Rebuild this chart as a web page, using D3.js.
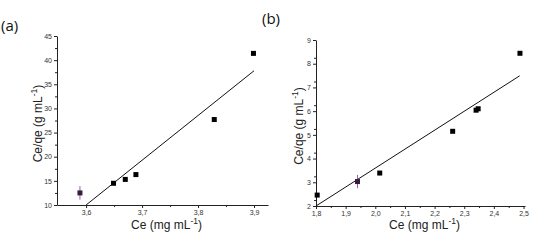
<!DOCTYPE html>
<meta charset="utf-8">
<style>
body { margin: 0; background: #fff; }
svg { font-family: "Liberation Sans", Arial, sans-serif; }
.tick text { font-size: 7px; fill: #333; }
.domain, .tick line { stroke: #222; }
</style>
<svg width="535" height="250"></svg>
<script src="https://cdn.jsdelivr.net/npm/d3@7"></script>
<script>
// panel (a)
var ceA = [3.589, 3.649, 3.670, 3.689, 3.829, 3.899];
var ratioA = [12.5, 14.5, 15.3, 16.3, 27.7, 41.4];
var errA = [1.4, 0, 0, 0, 0, 0];
var fitA = [[3.6, 10.0], [3.9, 37.8]];
var xTicksA = [3.6, 3.7, 3.8, 3.9];
var yTicksA = [10, 15, 20, 25, 30, 35, 40, 45];

// panel (b)
var ceB = [1.804, 1.940, 2.015, 2.261, 2.340, 2.347, 2.488];
var ratioB = [2.46, 3.03, 3.39, 5.15, 6.04, 6.10, 8.44];
var errB = [0, 0.28, 0, 0, 0, 0, 0];
var fitB = [[1.8, 2.0], [2.487, 7.49]];
var xTicksB = [1.8, 1.9, 2.0, 2.1, 2.2, 2.3, 2.4, 2.5];
var yTicksB = [2, 3, 4, 5, 6, 7, 8, 9];

var svg = d3.select("svg");
var comma = function(d) { return d3.format(".1f")(d).replace(".", ","); };

function panel(o) {
  var x = d3.scaleLinear().domain(o.xdom).range([o.left, o.right]);
  var y = d3.scaleLinear().domain(o.ydom).range([o.bottom, o.top]);
  var g = svg.append("g");

  // minor ticks halfway between the major ones
  var xMinor = [], yMinor = [];
  for (var i = 0; i < o.xt.length; i++) {
    var v = o.xt[i] + o.xstep / 2;
    if (v <= o.xdom[1]) xMinor.push(v);
  }
  for (var j = 0; j < o.yt.length - 1; j++) yMinor.push(o.yt[j] + o.ystep / 2);

  g.append("g").attr("transform", "translate(0," + o.bottom + ")")
    .call(d3.axisBottom(x).tickValues(xMinor).tickSize(2).tickFormat(""))
    .select(".domain").remove();
  g.append("g").attr("transform", "translate(" + o.left + ",0)")
    .call(d3.axisLeft(y).tickValues(yMinor).tickSize(2).tickFormat(""))
    .select(".domain").remove();

  g.append("g").attr("transform", "translate(0," + o.bottom + ")")
    .call(d3.axisBottom(x).tickValues(o.xt).tickSize(3).tickSizeOuter(0).tickPadding(2).tickFormat(comma));
  g.append("g").attr("transform", "translate(" + o.left + ",0)")
    .call(d3.axisLeft(y).tickValues(o.yt).tickSize(3).tickSizeOuter(0).tickPadding(2).tickFormat(d3.format("d")));

  // fit line
  g.append("line")
    .attr("x1", x(o.fit[0][0])).attr("y1", y(o.fit[0][1]))
    .attr("x2", x(o.fit[1][0])).attr("y2", y(o.fit[1][1]))
    .attr("stroke", "#111").attr("stroke-width", 1);

  // error bars
  o.xs.forEach(function(d, i) {
    if (!o.err[i]) return;
    g.append("line")
      .attr("x1", x(d)).attr("x2", x(d))
      .attr("y1", y(o.ys[i] - o.err[i])).attr("y2", y(o.ys[i] + o.err[i]))
      .attr("stroke", "#8a6a9a").attr("stroke-width", 1);
  });

  g.selectAll("rect.pt").data(o.xs).enter().append("rect")
    .attr("class", "pt")
    .attr("x", function(d) { return x(d) - 2.5; })
    .attr("y", function(d, i) { return y(o.ys[i]) - 2.5; })
    .attr("width", 5).attr("height", 5)
    .attr("fill", function(d, i) { return o.err[i] ? "#3a1a40" : "#000"; });

  // titles
  var xt = g.append("text").attr("x", (o.left + o.right) / 2 + 4).attr("y", 229)
    .attr("text-anchor", "middle").style("font-size", "12px").attr("fill", "#222")
    .text("Ce (mg mL");
  xt.append("tspan").attr("dy", -5).style("font-size", "8.5px").text("-1");
  xt.append("tspan").attr("dy", 5).text(")");

  var yt = g.append("text")
    .attr("transform", "translate(" + o.ytx + "," + ((o.top + o.bottom) / 2 + 3) + ") rotate(-90)")
    .attr("text-anchor", "middle").style("font-size", "12px").attr("fill", "#222")
    .text("Ce/qe (g mL");
  yt.append("tspan").attr("dy", -5).style("font-size", "8.5px").text("-1");
  yt.append("tspan").attr("dy", 5).text(")");

  svg.append("text").attr("x", o.lx).attr("y", o.ly)
    .style("font-family", "'Open Sans', sans-serif").style("font-size", "15px")
    .attr("fill", "#111").text(o.label);
}

panel({
  xs: ceA, ys: ratioA, err: errA, fit: fitA, xt: xTicksA, yt: yTicksA,
  xstep: 0.1, ystep: 5,
  xdom: [3.548, 3.925], ydom: [10, 45],
  left: 57, right: 268, top: 36, bottom: 205,
  ytx: 42, label: "(a)", lx: 1, ly: 31
});

panel({
  xs: ceB, ys: ratioB, err: errB, fit: fitB, xt: xTicksB, yt: yTicksB,
  xstep: 0.1, ystep: 0.5,
  xdom: [1.8, 2.505], ydom: [2, 9],
  left: 316, right: 525, top: 40, bottom: 206,
  ytx: 303, label: "(b)", lx: 262, ly: 24
});
</script>
